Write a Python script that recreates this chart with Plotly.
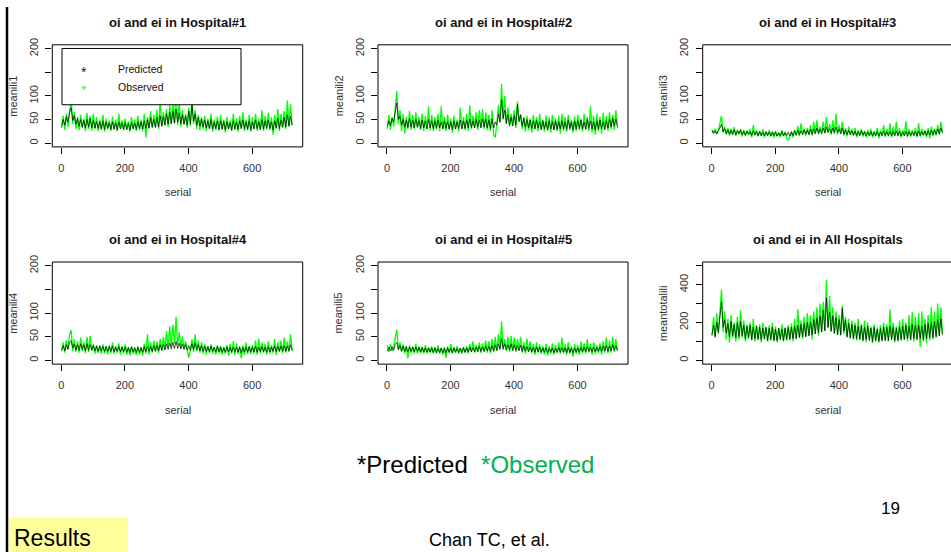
import plotly.graph_objects as go

# ---------------- data (one value every 5 days) ----------------
serial = list(range(1, 731, 5))  # day index 1..726

obs_h1 = [32, 58, 28, 62, 35, 70, 95, 40, 66, 30,
          55, 28, 60, 32, 52, 25, 64, 30, 58, 27,
          62, 30, 55, 26, 50, 28, 60, 24, 52, 30,
          48, 26, 56, 28, 50, 25, 62, 30, 48, 27,
          52, 28, 46, 24, 55, 30, 50, 26, 58, 28,
          50, 25, 62, 12, 55, 30, 68, 32, 60, 35,
          70, 30, 92, 35, 65, 38, 72, 34, 80, 40,
          85, 42, 120, 38, 88, 35, 70, 40, 62, 32,
          75, 36, 95, 40, 70, 30, 60, 28, 55, 30,
          58, 26, 52, 30, 62, 24, 50, 28, 56, 25,
          60, 28, 50, 22, 55, 30, 48, 25, 62, 28,
          52, 24, 58, 30, 65, 26, 50, 28, 60, 24,
          55, 30, 62, 26, 52, 28, 70, 25, 58, 30,
          64, 28, 55, 18, 60, 30, 72, 26, 62, 32,
          68, 30, 90, 35, 82, 38]
pred_h1 = [36, 50, 38, 56, 45, 65, 75, 48, 58, 40,
           52, 36, 50, 34, 48, 32, 50, 34, 52, 32,
           48, 32, 46, 31, 45, 30, 47, 29, 45, 31,
           43, 29, 45, 30, 43, 28, 45, 30, 42, 29,
           43, 29, 41, 28, 43, 30, 42, 29, 45, 31,
           45, 30, 47, 31, 50, 32, 54, 34, 50, 33,
           54, 34, 58, 36, 56, 38, 62, 40, 65, 41,
           68, 42, 72, 44, 64, 41, 60, 40, 57, 38,
           68, 41, 80, 46, 62, 38, 55, 36, 51, 34,
           49, 32, 47, 31, 50, 30, 45, 31, 47, 29,
           47, 30, 45, 28, 45, 30, 43, 28, 47, 30,
           45, 29, 47, 31, 49, 30, 45, 29, 47, 28,
           45, 30, 49, 31, 45, 29, 50, 30, 47, 31,
           49, 31, 45, 28, 47, 32, 52, 31, 49, 34,
           54, 34, 60, 36, 57, 38]

obs_h2 = [30, 60, 28, 55, 35, 82, 110, 40, 70, 25,
          62, 20, 55, 30, 68, 28, 60, 30, 65, 32,
          55, 28, 62, 25, 58, 30, 78, 28, 60, 26,
          55, 30, 62, 25, 78, 30, 55, 26, 60, 28,
          52, 22, 58, 30, 50, 25, 75, 30, 55, 28,
          62, 26, 80, 30, 58, 32, 65, 28, 70, 35,
          72, 30, 65, 28, 60, 25, 70, 18, 12, 40,
          80, 45, 125, 50, 100, 40, 75, 35, 62, 38,
          70, 32, 88, 45, 60, 30, 55, 25, 58, 28,
          52, 22, 60, 30, 55, 25, 62, 28, 50, 24,
          58, 26, 55, 22, 60, 28, 52, 25, 58, 20,
          62, 26, 55, 24, 60, 28, 50, 22, 56, 25,
          60, 28, 52, 24, 62, 30, 55, 26, 78, 22,
          58, 18, 62, 25, 55, 20, 64, 28, 58, 26,
          65, 30, 60, 28, 70, 32]
pred_h2 = [36, 47, 37, 52, 45, 68, 85, 50, 56, 38,
           50, 34, 49, 33, 52, 34, 49, 32, 50, 34,
           47, 31, 49, 32, 47, 30, 50, 32, 47, 31,
           47, 31, 49, 32, 45, 30, 47, 31, 45, 30,
           45, 29, 47, 30, 45, 31, 49, 30, 47, 31,
           49, 32, 51, 33, 47, 32, 50, 34, 49, 32,
           51, 34, 50, 32, 49, 31, 51, 32, 45, 38,
           62, 44, 92, 52, 70, 42, 60, 38, 55, 36,
           58, 38, 82, 46, 60, 36, 53, 34, 50, 32,
           49, 31, 47, 30, 49, 32, 45, 29, 47, 30,
           45, 29, 47, 30, 45, 28, 47, 29, 45, 30,
           47, 30, 45, 29, 49, 31, 45, 28, 47, 30,
           47, 31, 49, 30, 45, 29, 50, 31, 47, 30,
           45, 28, 47, 30, 49, 31, 45, 29, 47, 32,
           50, 34, 53, 36, 51, 36]

obs_h3 = [28, 22, 30, 20, 26, 40, 58, 22, 35, 18,
          32, 16, 30, 18, 34, 15, 28, 20, 30, 14,
          28, 15, 26, 18, 30, 12, 38, 16, 28, 14,
          26, 15, 30, 12, 25, 16, 28, 14, 24, 12,
          26, 14, 22, 12, 28, 15, 24, 10, 6, 14,
          24, 12, 28, 16, 36, 15, 42, 18, 30, 16,
          32, 18, 38, 16, 45, 20, 48, 18, 35, 22,
          45, 20, 55, 22, 40, 18, 48, 20, 62, 18,
          38, 20, 45, 16, 32, 14, 35, 18, 30, 15,
          32, 12, 28, 16, 30, 14, 26, 12, 28, 15,
          30, 12, 26, 14, 32, 10, 28, 15, 38, 13,
          30, 14, 42, 12, 35, 15, 45, 14, 32, 12,
          28, 15, 46, 12, 30, 14, 28, 16, 32, 12,
          42, 14, 30, 16, 28, 12, 32, 10, 35, 15,
          30, 16, 38, 18, 45, 22]
pred_h3 = [27, 20, 26, 19, 27, 32, 40, 24, 30, 20,
           28, 19, 27, 18, 28, 18, 26, 19, 27, 18,
           25, 17, 26, 18, 24, 16, 26, 17, 24, 16,
           24, 16, 23, 15, 24, 16, 23, 15, 24, 16,
           23, 15, 22, 16, 24, 15, 22, 16, 23, 15,
           24, 16, 26, 17, 27, 18, 26, 18, 28, 19,
           27, 18, 29, 19, 30, 20, 32, 21, 29, 20,
           32, 22, 34, 23, 30, 21, 32, 22, 34, 22,
           30, 20, 32, 19, 28, 18, 27, 18, 26, 17,
           25, 16, 24, 16, 26, 17, 24, 16, 23, 16,
           24, 15, 23, 16, 24, 15, 23, 16, 25, 16,
           24, 16, 25, 15, 24, 16, 26, 16, 24, 15,
           23, 16, 25, 15, 24, 16, 23, 16, 24, 15,
           26, 16, 24, 17, 25, 16, 26, 17, 27, 18,
           28, 19, 30, 20, 32, 22]

obs_h4 = [20, 38, 16, 42, 22, 55, 64, 20, 45, 18,
          40, 16, 48, 20, 38, 15, 50, 18, 52, 20,
          35, 14, 32, 16, 30, 14, 34, 15, 28, 13,
          32, 15, 38, 14, 30, 16, 36, 12, 30, 15,
          34, 12, 28, 10, 30, 14, 26, 11, 30, 12,
          28, 10, 35, 14, 55, 12, 38, 16, 42, 18,
          40, 15, 45, 20, 50, 22, 62, 28, 72, 30,
          75, 35, 92, 32, 60, 28, 50, 25, 40, 20,
          5, 22, 45, 18, 55, 20, 42, 16, 38, 14,
          35, 12, 30, 16, 34, 14, 28, 12, 32, 15,
          30, 12, 28, 14, 32, 10, 35, 15, 40, 12,
          36, 14, 30, 4, 32, 12, 38, 14, 30, 13,
          32, 14, 42, 12, 46, 15, 38, 16, 35, 12,
          40, 14, 32, 16, 45, 12, 38, 18, 42, 15,
          48, 16, 40, 18, 55, 20]
pred_h4 = [21, 31, 20, 33, 24, 38, 42, 26, 34, 22,
           33, 21, 35, 23, 33, 20, 35, 21, 33, 22,
           31, 20, 30, 19, 31, 20, 29, 19, 30, 19,
           29, 19, 30, 18, 28, 19, 29, 18, 28, 18,
           28, 17, 27, 17, 28, 18, 27, 17, 27, 17,
           27, 17, 29, 18, 30, 19, 29, 19, 31, 20,
           31, 20, 33, 21, 34, 22, 35, 23, 37, 24,
           38, 25, 40, 25, 36, 24, 35, 23, 33, 22,
           31, 21, 35, 23, 37, 22, 33, 20, 31, 19,
           30, 19, 29, 18, 30, 19, 28, 18, 29, 18,
           28, 17, 27, 17, 28, 18, 27, 17, 28, 17,
           27, 17, 28, 16, 27, 17, 28, 17, 29, 18,
           28, 18, 29, 17, 28, 18, 29, 18, 28, 17,
           29, 18, 28, 19, 30, 18, 29, 19, 30, 19,
           31, 19, 30, 20, 33, 21]

obs_h5 = [32, 18, 35, 20, 28, 50, 65, 22, 38, 18,
          34, 15, 30, 4, 32, 16, 28, 15, 35, 14,
          30, 16, 28, 14, 32, 15, 26, 16, 30, 14,
          28, 15, 32, 14, 26, 12, 28, 5, 30, 15,
          35, 14, 28, 16, 30, 15, 26, 14, 28, 16,
          30, 15, 35, 18, 40, 16, 32, 18, 38, 15,
          36, 18, 42, 16, 40, 15, 45, 18, 50, 20,
          55, 25, 82, 22, 45, 20, 50, 18, 52, 20,
          48, 18, 45, 22, 50, 16, 38, 14, 46, 18,
          40, 15, 35, 12, 38, 16, 34, 14, 30, 12,
          35, 10, 30, 14, 36, 12, 32, 15, 38, 14,
          48, 15, 34, 12, 38, 14, 30, 8, 35, 14,
          32, 12, 40, 15, 36, 14, 45, 16, 35, 12,
          38, 14, 32, 15, 36, 12, 40, 16, 48, 15,
          42, 16, 50, 18, 45, 20]
pred_h5 = [19, 28, 20, 29, 21, 34, 38, 23, 31, 20,
           30, 19, 29, 18, 28, 19, 29, 18, 28, 19,
           27, 17, 28, 18, 26, 17, 27, 18, 26, 17,
           26, 16, 25, 17, 26, 16, 25, 16, 26, 17,
           25, 16, 26, 17, 25, 16, 26, 17, 27, 17,
           26, 17, 28, 18, 27, 18, 28, 19, 29, 19,
           28, 19, 30, 20, 29, 19, 31, 20, 33, 21,
           35, 23, 46, 25, 35, 22, 33, 22, 35, 21,
           33, 21, 31, 20, 32, 19, 30, 19, 29, 18,
           28, 18, 27, 17, 28, 18, 27, 17, 26, 17,
           26, 16, 25, 17, 26, 16, 25, 17, 27, 17,
           27, 17, 26, 16, 27, 17, 25, 16, 26, 17,
           26, 17, 27, 18, 28, 18, 29, 19, 27, 18,
           28, 18, 27, 19, 29, 19, 30, 20, 31, 19,
           30, 20, 33, 21, 31, 21]

obs_all = [130, 230, 120, 250, 140, 280, 375, 150, 260, 110,
           220, 95, 240, 120, 200, 100, 230, 110, 265, 120,
           210, 100, 190, 115, 200, 105, 220, 100, 185, 110,
           190, 95, 200, 110, 175, 100, 185, 105, 200, 100,
           180, 95, 170, 110, 190, 100, 175, 105, 185, 110,
           195, 100, 220, 110, 270, 120, 210, 115, 230, 125,
           250, 130, 240, 110, 260, 140, 280, 130, 300, 150,
           310, 160, 425, 170, 340, 150, 280, 140, 260, 135,
           240, 130, 290, 140, 230, 120, 220, 115, 210, 110,
           200, 105, 220, 110, 190, 100, 210, 95, 200, 110,
           180, 90, 190, 100, 175, 95, 185, 100, 200, 105,
           190, 100, 270, 110, 200, 95, 180, 100, 210, 105,
           220, 110, 200, 100, 240, 105, 255, 100, 230, 110,
           250, 70, 260, 100, 220, 90, 240, 105, 280, 110,
           260, 120, 300, 130, 280, 140]
pred_all = [135, 185, 125, 200, 150, 240, 310, 175, 215, 145,
            195, 125, 205, 130, 190, 120, 200, 125, 205, 130,
            185, 115, 180, 120, 185, 110, 175, 115, 180, 110,
            175, 110, 170, 115, 175, 105, 170, 110, 175, 105,
            165, 105, 170, 110, 165, 105, 170, 110, 175, 110,
            175, 115, 180, 115, 185, 120, 190, 125, 195, 125,
            200, 130, 205, 135, 215, 140, 225, 145, 235, 150,
            265, 155, 330, 175, 255, 155, 235, 145, 225, 135,
            215, 135, 275, 155, 215, 125, 195, 120, 190, 115,
            185, 115, 180, 110, 185, 105, 175, 110, 180, 105,
            170, 100, 175, 105, 165, 100, 170, 105, 175, 105,
            175, 105, 180, 110, 175, 105, 170, 105, 175, 110,
            180, 110, 185, 115, 180, 110, 190, 115, 185, 110,
            185, 115, 180, 110, 190, 115, 195, 120, 200, 120,
            205, 125, 215, 130, 220, 135]

titles = ["oi and ei in Hospital#1", "oi and ei in Hospital#2", "oi and ei in Hospital#3",
          "oi and ei in Hospital#4", "oi and ei in Hospital#5", "oi and ei in All Hospitals"]
ylabels = ["meanili1", "meanili2", "meanili3", "meanili4", "meanili5", "meantotalili"]
x_ticks = [0, 200, 400, 600]
y_ticks_small = [0, 50, 100, 150, 200]
y_ticktext_small = ["0", "50", "100", "", "200"]
y_ticks_all = [0, 100, 200, 300, 400, 500]
y_ticktext_all = ["0", "", "200", "", "400", ""]

observed = [obs_h1, obs_h2, obs_h3, obs_h4, obs_h5, obs_all]
predicted = [pred_h1, pred_h2, pred_h3, pred_h4, pred_h5, pred_all]

# ---------------- layout geometry (pixels) ----------------
W, H = 951, 552
def fx(p):
    return p / W
def fy(p):
    return 1 - p / H

boxes = [(52.3, 38.3, 302.7, 141.7), (378.0, 38.3, 628.0, 141.7), (702.7, 38.3, 953.0, 141.7),
         (52.3, 258.3, 302.7, 361.7), (378.0, 258.3, 628.0, 361.7), (702.7, 258.3, 953.0, 361.7)]
X0, XSPAN = -28.2, 787.4

GREEN = "#00FF00"
tickfont = dict(family="Liberation Sans, Arial, sans-serif", size=11, color="#333333")

def note(text, x, y, font, xanchor="center", yanchor="middle", **kw):
    d = dict(text=text, xref="paper", yref="paper", x=fx(x), y=fy(y), showarrow=False,
             xanchor=xanchor, yanchor=yanchor, font=font)
    d.update(kw)
    return d

fig = go.Figure()
shapes = []
annotations = []
layout = {}

for i in range(6):
    k = "" if i == 0 else str(i + 1)
    xa, ya = "x" + k, "y" + k
    l, t, r, b = boxes[i]
    vis_r = min(r, W)
    xr = [X0, X0 + XSPAN * (vis_r - l) / (r - l)]
    small = i < 5
    yr = [-8, 208] if small else [-20, 520]

    fig.add_trace(go.Scatter(x=serial, y=observed[i], mode="lines",
                             line=dict(color=GREEN, width=1.3), xaxis=xa, yaxis=ya,
                             showlegend=False, hoverinfo="skip"))
    fig.add_trace(go.Scatter(x=serial, y=predicted[i], mode="lines",
                             line=dict(color="black", width=0.7), xaxis=xa, yaxis=ya,
                             showlegend=False, hoverinfo="skip"))

    layout["xaxis" + k] = dict(domain=[fx(l), fx(vis_r)], range=xr, anchor=ya,
                               tickvals=x_ticks, ticks="outside", ticklen=6,
                               tickcolor="black", showgrid=False, zeroline=False,
                               showline=False, tickfont=tickfont, ticklabelstandoff=5)
    layout["yaxis" + k] = dict(domain=[fy(b), fy(t)], range=yr, anchor=xa,
                               tickvals=y_ticks_small if small else y_ticks_all,
                               ticktext=y_ticktext_small if small else y_ticktext_all,
                               ticks="outside", ticklen=6, tickcolor="black",
                               tickangle=-90, showgrid=False, zeroline=False,
                               showline=False, tickfont=tickfont, ticklabelstandoff=3)

    shapes.append(dict(type="rect", xref="paper", yref="paper",
                       x0=fx(l), x1=fx(r), y0=fy(b), y1=fy(t),
                       line=dict(color="black", width=1)))
    cx = (l + r) / 2
    annotations.append(note("<b>" + titles[i] + "</b>", cx, t - 23,
                            dict(family="Liberation Sans, Arial, sans-serif", size=13, color="#111111")))
    annotations.append(note("serial", cx, b + 46, tickfont))
    annotations.append(note(ylabels[i], l - 39.5, (t + b) / 2, tickfont, textangle=-90))

# legend inside panel 1
shapes.append(dict(type="rect", xref="paper", yref="paper",
                   x0=fx(62), x1=fx(241), y0=fy(99), y1=fy(42),
                   line=dict(color="black", width=1), fillcolor="white"))
legfont = dict(family="Liberation Sans, Arial, sans-serif", size=10.5, color="#111111")
annotations += [
    note("*", 83.5, 65, dict(size=10, color="black")),
    note("*", 83.5, 83, dict(size=10, color=GREEN)),
    note("Predicted", 116, 63, legfont, xanchor="left"),
    note("Observed", 116, 81, legfont, xanchor="left"),
]

# slide decorations
shapes.append(dict(type="line", xref="paper", yref="paper", x0=fx(7), x1=fx(7), y0=0, y1=1,
                   line=dict(color="black", width=2.5), layer="above"))
shapes.append(dict(type="rect", xref="paper", yref="paper", x0=fx(9), x1=fx(128),
                   y0=0, y1=fy(517), fillcolor="#FFFF99", line=dict(width=0)))
slidefont = "Liberation Sans, Arial, sans-serif"
annotations += [
    note("*Predicted  <span style='color:#00B050'>*Observed</span>", 475, 463,
         dict(family=slidefont, size=24, color="black")),
    note("19", 890, 508, dict(family=slidefont, size=17, color="black")),
    note("Chan TC, et al.", 489, 540, dict(family=slidefont, size=18, color="black")),
    note("Results", 12, 538, dict(family=slidefont, size=23, color="black"), xanchor="left"),
]

fig.update_layout(width=W, height=H, margin=dict(l=0, r=0, t=0, b=0),
                  paper_bgcolor="white", plot_bgcolor="white",
                  shapes=shapes, annotations=annotations, **layout)

fig.write_html("out.html", config={"displayModeBar": False},
               post_script="document.body.style.margin='0px';"
                           "var gd=document.getElementById('{plot_id}');"
                           "gd.style.position='absolute';gd.style.left='0px';gd.style.top='0px';")
